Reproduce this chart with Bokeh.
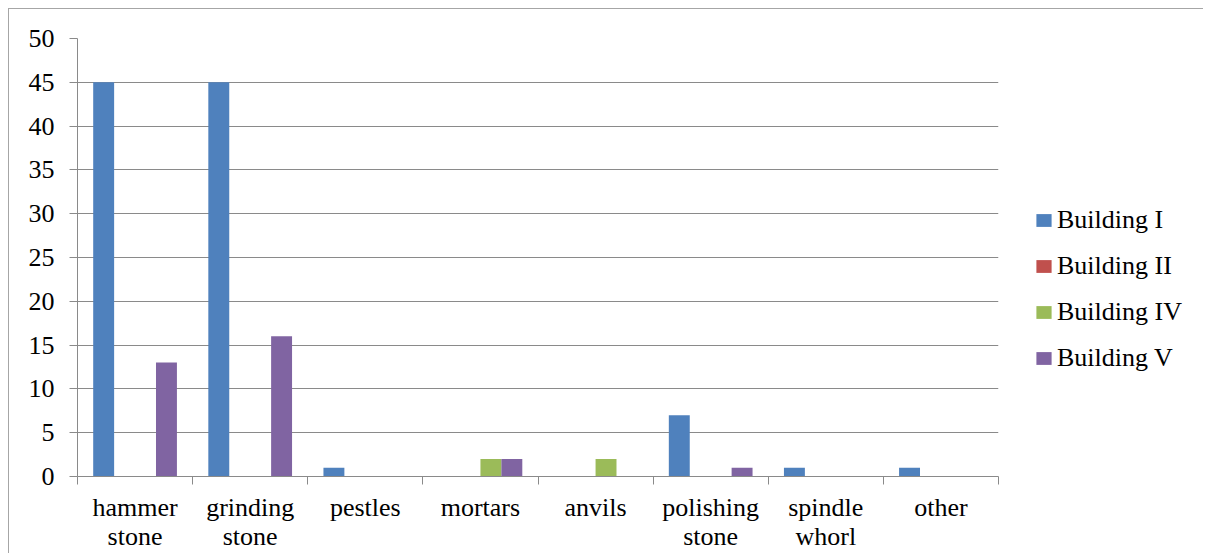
import numpy as np
from bokeh.plotting import figure
from bokeh.layouts import row
from bokeh.models import ColumnDataSource, Range1d, FixedTicker, Legend, LegendItem
from bokeh.transform import dodge
from bokeh.embed import file_html
from bokeh.resources import INLINE

categories = ["hammer\nstone", "grinding\nstone", "pestles", "mortars", "anvils",
              "polishing\nstone", "spindle\nwhorl", "other"]
building_i = [45, 45, 1, 0, 0, 7, 1, 1]
building_ii = [0, 0, 0, 0, 0, 0, 0, 0]
building_iv = [0, 0, 0, 2, 2, 0, 0, 0]
building_v = [13, 16, 0, 2, 0, 1, 0, 0]
series_names = ["Building I", "Building II", "Building IV", "Building V"]
colors = ["#4F81BD", "#C0504D", "#9BBB59", "#8064A2"]
y_ticks = list(range(0, 51, 5))

FONT = "Liberation Serif"
GRID = "#8a8a8a"
BORDER = "1px solid #a6a6a6"
H = 545

n = len(categories)
centers = np.arange(n) + 0.5
src = ColumnDataSource(dict(x=centers, s0=building_i, s1=building_ii,
                            s2=building_iv, s3=building_v))

p = figure(width=999, height=H, output_backend="svg", toolbar_location=None,
           x_range=Range1d(0, n), y_range=Range1d(0, 50),
           min_border_left=68, min_border_top=29, min_border_bottom=78,
           min_border_right=10)
p.styles = {"border-top": BORDER, "border-left": BORDER}
p.outline_line_color = None
p.background_fill_color = "white"
p.border_fill_color = "white"

w = 1 / 5.5
offsets = [-1.5 * w, -0.5 * w, 0.5 * w, 1.5 * w]
for k in range(4):
    p.vbar(x=dodge("x", offsets[k]), top="s%d" % k, width=w, source=src,
           fill_color=colors[k], line_color=None)

# axes
p.xgrid.visible = False
p.ygrid.grid_line_color = GRID
p.ygrid.grid_line_width = 1
p.yaxis.ticker = FixedTicker(ticks=y_ticks)
p.yaxis.axis_line_color = GRID
p.yaxis.major_tick_line_color = GRID
p.yaxis.major_tick_out = 8
p.yaxis.major_tick_in = 0
p.yaxis.minor_tick_line_color = None
p.yaxis.major_label_text_font = FONT
p.yaxis.major_label_text_font_size = "26px"
p.yaxis.major_label_text_color = "black"
p.yaxis.major_label_standoff = 15

p.xaxis.ticker = FixedTicker(ticks=list(centers), minor_ticks=list(range(n + 1)))
p.xaxis.major_label_overrides = {float(c): lab for c, lab in zip(centers, categories)}
p.xaxis.axis_line_color = GRID
p.xaxis.major_tick_line_color = None
p.xaxis.major_tick_out = 0
p.xaxis.minor_tick_line_color = GRID
p.xaxis.minor_tick_out = 8
p.xaxis.minor_tick_in = 0
p.xaxis.major_label_text_font = FONT
p.xaxis.major_label_text_font_size = "26px"
p.xaxis.major_label_text_color = "black"
p.xaxis.major_label_text_line_height = 1.0
p.xaxis.major_label_standoff = 8

# legend panel (separate figure to the right so it is not clipped);
# its bar renderers share the data but are kept out of view
lf = figure(width=196, height=H, output_backend="svg", toolbar_location=None,
            x_range=Range1d(-200, -199), y_range=Range1d(0, 50), min_border=0)
lf.styles = {"border-top": BORDER}
lf.axis.visible = False
lf.grid.visible = False
lf.outline_line_color = None
lf.background_fill_color = "white"
lf.border_fill_color = "white"
items = []
for k in range(4):
    r = lf.vbar(x=dodge("x", offsets[k]), top="s%d" % k, width=w, source=src,
                fill_color=colors[k], line_color=None)
    items.append(LegendItem(label=series_names[k], renderers=[r], index=0))
legend = Legend(items=items, location=(27, 103), orientation="vertical",
                label_text_font=FONT, label_text_font_size="26px",
                label_text_color="black", glyph_width=19, glyph_height=16,
                label_height=30, spacing=16, label_standoff=4,
                padding=0, margin=0, border_line_color=None,
                background_fill_alpha=0)
lf.add_layout(legend, "center")

layout = row(p, lf, spacing=0)
layout.styles = {"margin-left": "8px", "margin-top": "8px"}

open("out.html", "w").write(file_html(layout, INLINE))
